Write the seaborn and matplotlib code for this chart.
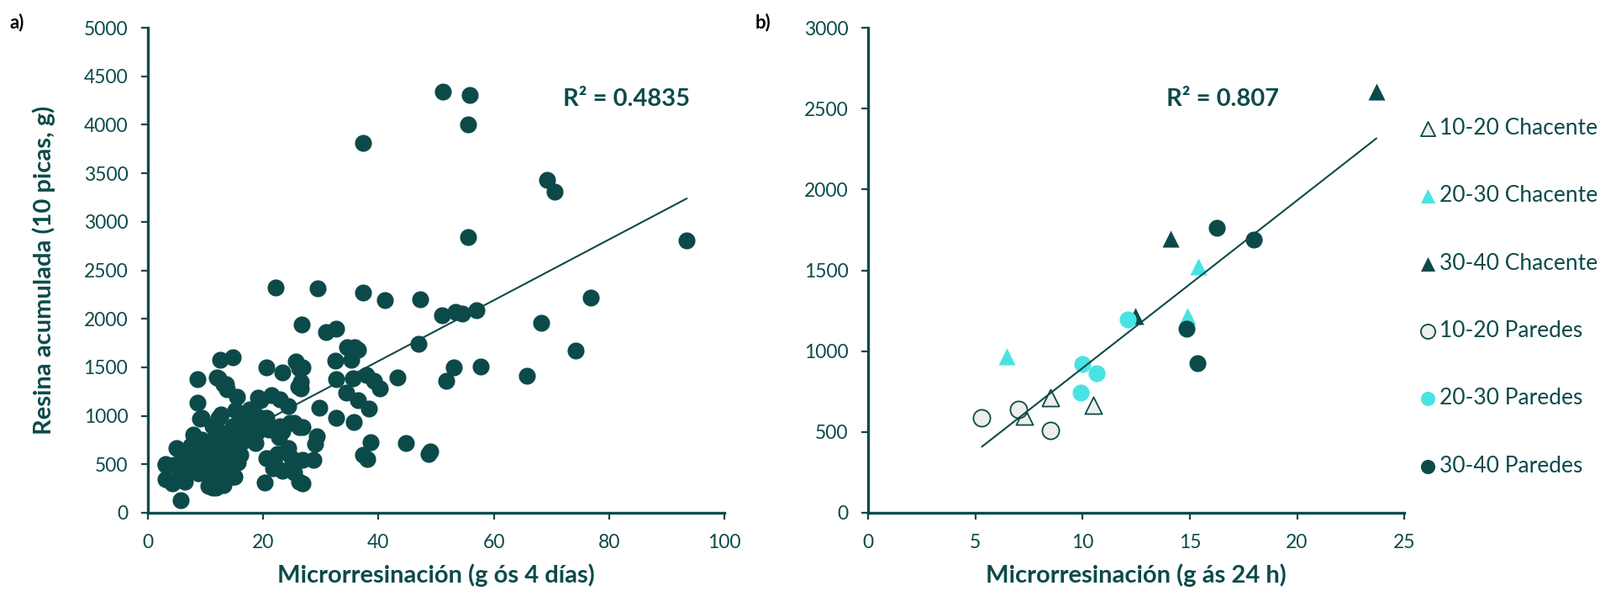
import numpy as np
import pandas as pd
import matplotlib.pyplot as plt
import seaborn as sns

sns.set_theme(style="ticks")
plt.rcParams['font.family'] = ['Lato', 'DejaVu Sans']

dark = '#0c4a4a'
cyan = '#48e3e3'
light = '#eeeeea'

# a) microrresinación 4 días vs resina acumulada
micro_4d = [
    51.2, 55.8, 55.6, 37.3, 69.2, 70.6, 55.6, 93.5, 76.9, 68.3, 74.2, 65.8,
    22.1, 29.4, 37.3, 41.1, 47.3, 51.0, 53.4, 54.6, 57.0,
    26.7, 30.9, 32.6, 47.0, 34.6, 35.8, 36.5, 32.5, 35.3,
    26.8, 53.1, 51.8, 57.8, 26.6, 26.6, 32.6, 35.6, 37.9, 39.2, 40.3, 43.3,
    34.4, 36.4, 38.4, 29.8, 32.6, 35.7, 26.8, 29.3, 29.0, 28.7, 26.8, 26.8,
    38.6, 37.3, 38.1, 44.8, 48.7, 49.0,
    12.5, 14.8, 20.5, 25.6, 23.4,
    8.6, 12.0, 13.2, 13.7, 15.4, 8.6, 19.1, 21.5, 22.9, 24.4,
    9.3, 12.7, 15.2, 17.6, 20.5, 18.6, 11.3, 14.7, 7.9, 9.3, 11.8, 15.2, 18.6,
    22.9, 25.4, 22.7, 24.4, 22.4, 20.5, 5.0, 7.4, 3.0, 3.0, 4.5, 6.4, 4.5, 6.9,
    8.8, 10.3, 11.8, 13.7, 15.2, 10.8, 11.8, 13.2, 14.2, 12.2, 9.3, 5.7, 20.3,
    22.0, 23.4, 26.3,
    12.2, 13.5, 26.1, 26.3, 24.9, 25.4, 21.7, 23.4, 26.3, 24.6, 22.7, 15.6,
    15.2, 12.2, 11.3, 3.0, 4.2, 9.1, 12.2, 19.0, 17.6, 14.2, 6.4, 7.4, 8.8,
    10.8, 13.2, 14.7, 13.0,
    10.0, 11.0, 12.0, 13.0, 14.0, 16.0, 17.0, 12.0, 13.5, 15.0, 16.5, 10.5,
    12.8, 8.0, 7.0, 5.5, 6.0, 9.0, 10.0, 11.5, 14.5, 16.0, 18.0, 19.0, 20.0,
    21.0, 17.0, 16.0, 19.5,
]
resina_a = [
    4340, 4310, 4000, 3810, 3430, 3310, 2840, 2810, 2220, 1960, 1675, 1415,
    2325, 2310, 2270, 2195, 2200, 2040, 2070, 2050, 2090,
    1945, 1860, 1900, 1740, 1705, 1705, 1680, 1565, 1575,
    1495, 1495, 1360, 1510, 1350, 1285, 1380, 1390, 1420, 1360, 1285, 1395,
    1240, 1160, 1075, 1085, 975, 940, 880, 785, 710, 545, 550, 305,
    730, 600, 555, 720, 610, 630,
    1575, 1605, 1500, 1560, 1445,
    1380, 1395, 1330, 1270, 1200, 1135, 1185, 1215, 1170, 1100,
    980, 1010, 1055, 1070, 980, 925, 895, 895, 810, 750, 810, 780, 720,
    895, 925, 780, 665, 605, 565, 665, 695, 505, 345, 320, 320, 490, 490,
    550, 665, 605, 635, 550, 375, 260, 290, 405, 435, 435, 130, 310,
    490, 435, 320,
    1390, 1330, 1300, 1490, 560, 420, 460, 840, 880, 925, 865, 520,
    720, 290, 260, 490, 300, 970, 980, 1000, 865, 665, 375, 490, 405,
    550, 635, 375, 330,
    500, 560, 700, 820, 480, 600, 860, 350, 520, 370, 740, 280,
    300, 600, 420, 380, 560, 480, 620, 450, 690, 1000, 860, 830, 960,
    860, 1000, 950, 1160,
]

# b) microrresinación 24 h por profundidade e sitio
b_group = (['10-20 Chacente'] * 3 + ['20-30 Chacente'] * 3 + ['30-40 Chacente'] * 3
           + ['10-20 Paredes'] * 3 + ['20-30 Paredes'] * 4 + ['30-40 Paredes'] * 4)
micro_24h = [8.5, 7.3, 10.5,
             6.45, 15.4, 14.9,
             23.7, 14.1, 12.45,
             5.3, 7.0, 8.5,
             12.1, 10.0, 10.65, 9.9,
             16.25, 18.0, 14.85, 15.35]
resina_b = [714, 600, 667,
            968, 1525, 1215,
            2606, 1695, 1215,
            587, 640, 508,
            1197, 922, 862, 746,
            1763, 1691, 1140, 926]

b_styles = {
    '10-20 Chacente': dict(marker='^', color=light, edgecolor=dark, linewidth=1.3),
    '20-30 Chacente': dict(marker='^', color=cyan, edgecolor=cyan, linewidth=0),
    '30-40 Chacente': dict(marker='^', color=dark, edgecolor=dark, linewidth=0),
    '10-20 Paredes': dict(marker='o', color=light, edgecolor=dark, linewidth=1.3),
    '20-30 Paredes': dict(marker='o', color=cyan, edgecolor=cyan, linewidth=0),
    '30-40 Paredes': dict(marker='o', color=dark, edgecolor=dark, linewidth=0),
}

df_a = pd.DataFrame({'x': micro_4d, 'y': resina_a})
df_b = pd.DataFrame({'grupo': b_group, 'x': micro_24h, 'y': resina_b})

fig = plt.figure(figsize=(19.04, 7.03), dpi=100)
ax_a = fig.add_axes([0.0924, 0.1323, 0.3603, 0.8207])
ax_b = fig.add_axes([0.5426, 0.1323, 0.3351, 0.8207])

sns.regplot(data=df_a, x='x', y='y', ax=ax_a, ci=None, truncate=True,
            scatter_kws=dict(s=210, color=dark, linewidths=0, alpha=1),
            line_kws=dict(color=dark, lw=1.5))

sns.regplot(data=df_b, x='x', y='y', ax=ax_b, ci=None, truncate=True, scatter=False,
            line_kws=dict(color=dark, lw=1.5, zorder=5))
for g, st in b_styles.items():
    sub = df_b[df_b['grupo'] == g]
    sns.scatterplot(data=sub, x='x', y='y', ax=ax_b, s=210, label=g, zorder=3, **st)

for ax in (ax_a, ax_b):
    sns.despine(ax=ax)
    for side in ('left', 'bottom'):
        ax.spines[side].set_color(dark)
        ax.spines[side].set_linewidth(2.4)
    ax.tick_params(axis='both', colors=dark, labelcolor=dark, labelsize=16.5,
                   length=6, width=1.6, direction='out')
    ax.tick_params(axis='x', pad=12)
    ax.tick_params(axis='y', pad=11)

ax_a.set_xlim(0, 100)
ax_a.set_ylim(0, 5000)
ax_a.set_xticks(range(0, 101, 20))
ax_a.set_yticks(range(0, 5001, 500))
ax_a.set_xlabel('Microrresinación (g ós 4 días)', fontsize=21, fontweight='bold', color=dark)
ax_a.set_ylabel('Resina acumulada (10 picas, g)', fontsize=21, fontweight='bold', color=dark)
ax_a.xaxis.set_label_coords(0.5, -0.105)
ax_a.yaxis.set_label_coords(-0.16, 0.5)
ax_a.text(0.83, 0.853, 'R² = 0.4835', transform=ax_a.transAxes, ha='center', va='center',
          fontsize=21, fontweight='bold', color=dark)

ax_b.set_xlim(0, 25)
ax_b.set_ylim(0, 3000)
ax_b.set_xticks(range(0, 26, 5))
ax_b.set_yticks(range(0, 3001, 500))
ax_b.set_xlabel('Microrresinación (g ás 24 h)', fontsize=21, fontweight='bold', color=dark)
ax_b.set_ylabel('')
ax_b.xaxis.set_label_coords(0.5, -0.105)
ax_b.text(0.661, 0.853, 'R² = 0.807', transform=ax_b.transAxes, ha='center', va='center',
          fontsize=21, fontweight='bold', color=dark)

leg = ax_b.legend(loc='upper left', bbox_to_anchor=(0.879, 0.82), bbox_transform=fig.transFigure,
                  frameon=False, fontsize=19, labelspacing=2.1, handletextpad=0.1,
                  handlelength=0.9, borderpad=0, markerscale=0.85)
for t in leg.get_texts():
    t.set_color(dark)

fig.text(0.006, 0.962, 'a)', fontsize=16, fontweight='bold', color='black', va='center')
fig.text(0.472, 0.962, 'b)', fontsize=16, fontweight='bold', color='black', va='center')

fig.savefig('out.png', dpi=100)
